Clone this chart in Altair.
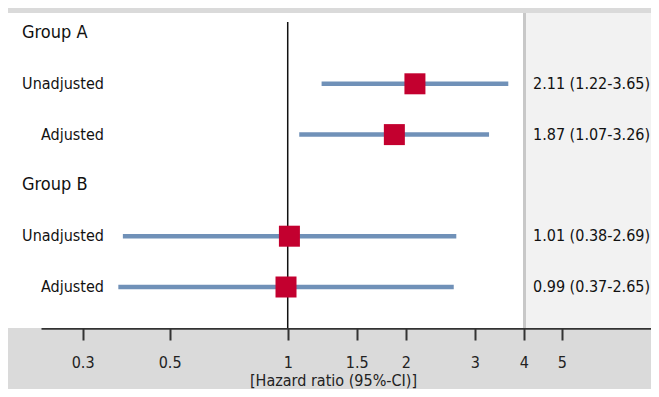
import altair as alt
import pandas as pd

# ---- data ----
groups = ["Group A", "Group B"]
group_rows = [0, 3]
subgroups = ["Unadjusted", "Adjusted", "Unadjusted", "Adjusted"]
sub_rows = [1, 2, 4, 5]
hr = [2.11, 1.87, 1.01, 0.99]
ci_low = [1.22, 1.07, 0.38, 0.37]
ci_high = [3.65, 3.26, 2.69, 2.65]
tick_values = [0.3, 0.5, 1, 1.5, 2, 3, 4, 5]
x_title = "[Hazard ratio (95%-CI)]"

FONT = "Liberation Sans Narrow, Arial Narrow, DejaVu Sans Condensed, sans-serif"

est = pd.DataFrame({"row": sub_rows, "label": subgroups, "hr": hr, "lo": ci_low, "hi": ci_high})
est["txt"] = [f"{h:.2f} ({l:.2f}-{u:.2f})" for h, l, u in zip(hr, ci_low, ci_high)]
grp = pd.DataFrame({"row": group_rows, "label": groups})
one = pd.DataFrame({"a": [0]})
ref = pd.DataFrame({"v": [1]})

W, H = 643, 320

xscale = alt.Scale(type="log", domain=[0.235, 10], range=[33, 672], nice=False)
yscale = alt.Scale(domain=[0, 5], range=[25, 279], nice=False, zero=False)

white_panel = alt.Chart(one).mark_rect(fill="white").encode(
    x=alt.value(0), x2=alt.value(515), y=alt.value(5), y2=alt.value(H))
divider = alt.Chart(one).mark_rect(fill="#c8c8c8").encode(
    x=alt.value(515), x2=alt.value(518), y=alt.value(5), y2=alt.value(H))
right_panel = alt.Chart(one).mark_rect(fill="#f2f2f2").encode(
    x=alt.value(518), x2=alt.value(W), y=alt.value(5), y2=alt.value(H))

ref_line = alt.Chart(ref).mark_rule(color="#111", strokeWidth=1.5).encode(
    x=alt.X("v:Q", scale=xscale,
            axis=alt.Axis(values=tick_values, title=x_title, format="~g",
                          titleX=325, titleY=52, titleAlign="center", titleBaseline="middle")),
    y=alt.value(14), y2=alt.value(H))

ci = alt.Chart(est).mark_rule(color="#7091b8", strokeWidth=4.5).encode(
    x=alt.X("lo:Q", scale=xscale), x2="hi:Q",
    y=alt.Y("row:Q", scale=yscale, axis=None))

pts = alt.Chart(est).mark_square(color="#c3002f", size=441, opacity=1).encode(
    x=alt.X("hr:Q", scale=xscale), y=alt.Y("row:Q", scale=yscale))

grp_txt = alt.Chart(grp).mark_text(align="left", baseline="middle", fontSize=18,
                                   font=FONT, color="#111").encode(
    x=alt.value(14), y=alt.Y("row:Q", scale=yscale), text="label:N")

sub_txt = alt.Chart(est).mark_text(align="right", baseline="middle", fontSize=16,
                                   font=FONT, color="#111").encode(
    x=alt.value(96), y=alt.Y("row:Q", scale=yscale), text="label:N")

val_txt = alt.Chart(est).mark_text(align="left", baseline="middle", fontSize=16,
                                   font=FONT, color="#111").encode(
    x=alt.value(525), y=alt.Y("row:Q", scale=yscale), text="txt:N")

chart = alt.layer(white_panel, divider, right_panel, ref_line, ci, pts,
                  grp_txt, sub_txt, val_txt).properties(
    width=W, height=H,
    autosize=alt.AutoSizeParams(type="none"),
    padding={"left": 0, "top": 0, "right": 0, "bottom": 61},
    background="#dadada",
).configure_view(stroke=None).configure_axis(
    grid=False, labelFont=FONT, labelFontSize=16, labelColor="#222",
    labelBaseline="middle", labelPadding=22,
    tickColor="#333", tickSize=12, tickWidth=2,
    domainColor="#333", domainWidth=2.5,
    titleFont=FONT, titleFontSize=16, titleFontWeight="normal", titleColor="#222",
)

chart.save("out.html", embed_options={"renderer": "svg", "actions": False})
